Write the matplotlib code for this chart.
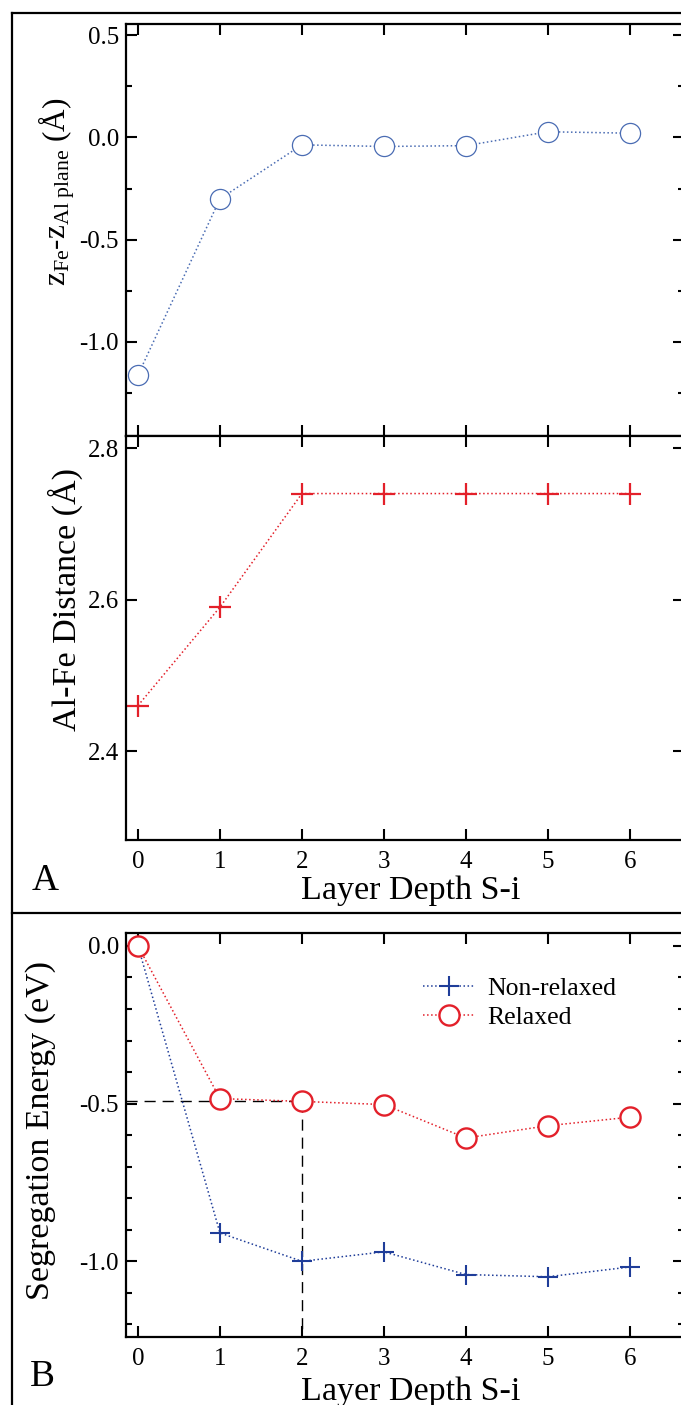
import matplotlib
matplotlib.use("Agg")
import matplotlib.pyplot as plt
from matplotlib.lines import Line2D
from matplotlib.ticker import MultipleLocator, FormatStrFormatter

plt.rcParams['font.family'] = ['Liberation Serif', 'DejaVu Serif']
plt.rcParams['mathtext.fontset'] = 'custom'
plt.rcParams['mathtext.rm'] = 'Liberation Serif'
plt.rcParams['mathtext.it'] = 'Liberation Serif:italic'
plt.rcParams['axes.unicode_minus'] = False

# ---- data ----
layers = [0, 1, 2, 3, 4, 5, 6]
z_offset = [-1.162, -0.30, -0.036, -0.044, -0.040, 0.028, 0.021]
alfe_dist = [2.46, 2.59, 2.74, 2.74, 2.74, 2.74, 2.74]
seg_nonrelaxed = [0.0, -0.910, -1.000, -0.970, -1.042, -1.049, -1.018]
seg_relaxed = [0.0, -0.484, -0.493, -0.503, -0.609, -0.570, -0.543]
xtick_labels = ['0', '1', '2', '3', '4', '5', '6']

W, H = 681, 1405
fig = plt.figure(figsize=(W / 100, H / 100), dpi=100)

def rect(left, top, right, bottom):
    return [left / W, 1 - bottom / H, (right - left) / W, (bottom - top) / H]

BLUE_C = '#4a6cb3'
BLUE_X = '#1f3d99'
RED = '#e3202a'
TICKFS = 18
LABELFS = 24.5
XLIM = (-0.146, 6.66)

def style(ax):
    for s in ax.spines.values():
        s.set_linewidth(1.6)
    ax.tick_params(which='both', direction='in', top=True, right=True,
                   width=1.5, labelsize=TICKFS)
    ax.tick_params(which='major', length=8)
    ax.tick_params(which='minor', length=4)
    ax.tick_params(axis='y', pad=5)
    ax.tick_params(axis='x', pad=8)
    ax.set_xlim(*XLIM)
    ax.set_xticks(layers)

ax1 = fig.add_axes(rect(126, 24, 684, 436))
ax2 = fig.add_axes(rect(126, 436, 684, 840))
ax3 = fig.add_axes(rect(126, 933, 684, 1337))

# Top panel
ax1.plot(layers, z_offset, linestyle=':', color=BLUE_C, lw=1.1,
         marker='o', ms=14.5, mfc='white', mec=BLUE_C, mew=0.9)
style(ax1)
ax1.set_ylim(-1.46, 0.555)
ax1.yaxis.set_major_locator(MultipleLocator(0.5))
ax1.yaxis.set_minor_locator(MultipleLocator(0.25))
ax1.yaxis.set_major_formatter(FormatStrFormatter('%.1f'))
ax1.set_xticklabels([])

# Middle panel
ax2.plot(layers, alfe_dist, linestyle=':', color=RED, lw=1.1,
         marker='+', ms=16, mew=1.6)
style(ax2)
ax2.set_ylim(2.2825, 2.816)
ax2.yaxis.set_major_locator(MultipleLocator(0.2))
ax2.yaxis.set_major_formatter(FormatStrFormatter('%.1f'))
ax2.set_xticklabels(xtick_labels)

# Bottom panel
ax3.plot(layers, seg_nonrelaxed, linestyle=':', color=BLUE_X, lw=1.1,
         marker='+', ms=15, mew=1.5, label='Non-relaxed', zorder=3)
ax3.plot(layers, seg_relaxed, linestyle=':', color=RED, lw=1.1,
         marker='o', ms=14.5, mfc='white', mec=RED, mew=1.7,
         label='Relaxed', zorder=4)
style(ax3)
ax3.set_ylim(-1.24, 0.041)
ax3.plot([XLIM[0], layers[2]], [seg_relaxed[2], seg_relaxed[2]],
         color='black', lw=1.0, dashes=(8, 5), zorder=2)
ax3.plot([layers[2], layers[2]], [seg_relaxed[2], -1.24],
         color='black', lw=1.0, dashes=(8, 5), zorder=2)
ax3.yaxis.set_major_locator(MultipleLocator(0.5))
ax3.yaxis.set_minor_locator(MultipleLocator(0.1))
ax3.yaxis.set_major_formatter(FormatStrFormatter('%.1f'))
ax3.set_xticklabels(xtick_labels)
ax3.legend(loc='upper left', bbox_to_anchor=((423 - 126) / 558, (1337 - 977) / 404),
           frameon=False, fontsize=18.5, borderpad=0, borderaxespad=0,
           handlelength=2.0, handletextpad=0.5, labelspacing=0.22)

# Axis labels as figure text
def ftext(x, y, s, **kw):
    fig.text(x / W, 1 - y / H, s, ha='center', va='center', **kw)

ftext(57, 192, r'$\mathrm{z}_{\mathrm{Fe}}$-$\mathrm{z}_{\mathrm{Al\ plane}}$ (Å)',
      rotation=90, fontsize=22.5)
ftext(65, 600, 'Al-Fe Distance (Å)', rotation=90, fontsize=LABELFS)
ftext(41, 1131, 'Segregation Energy (eV)', rotation=90, fontsize=LABELFS)
ftext(411, 891, 'Layer Depth S-i', fontsize=LABELFS)
ftext(411, 1392, 'Layer Depth S-i', fontsize=LABELFS)
ftext(45, 881, 'A', fontsize=27)
ftext(42, 1377, 'B', fontsize=27)

# Panel frames
def fline(x0, y0, x1, y1):
    fig.add_artist(Line2D([x0 / W, x1 / W], [1 - y0 / H, 1 - y1 / H],
                          color='black', lw=1.6))

fline(12, 13, 12, 1405)
fline(12, 13, 681, 13)
fline(12, 913, 681, 913)

fig.savefig('out.png', dpi=100)
